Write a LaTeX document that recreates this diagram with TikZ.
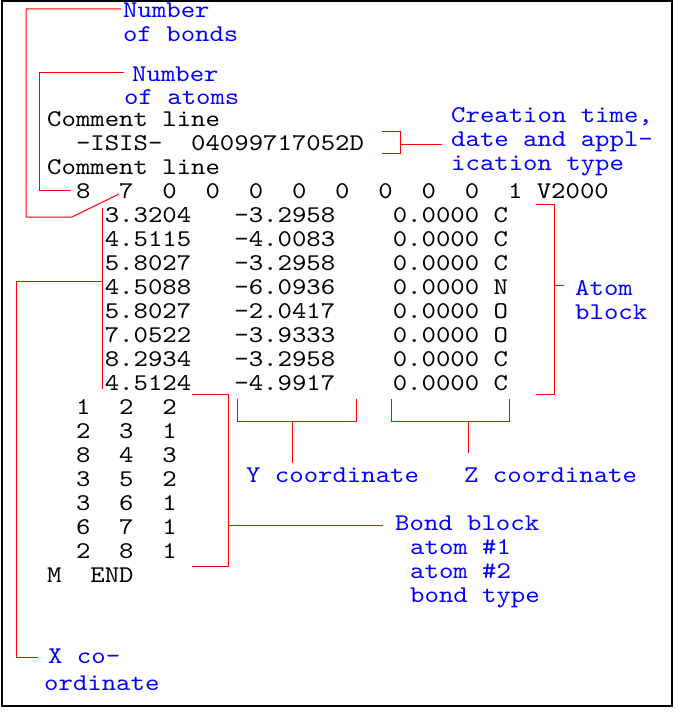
\documentclass[tikz,border=0pt]{standalone}
\usepackage{fontspec}
\newfontfamily\lstfont{lmmono10-regular.otf}[FakeStretch=1.143]
\usetikzlibrary{positioning}

\tikzset{
	lst/.style={font=\lstfont\fontsize{24}{24}\selectfont,inner sep=0pt,anchor=base west},
	lbl/.style={lst,text=blue,align=left},
	lnk/.style={red,line width=1pt},
}

\begin{document}
\begin{tikzpicture}[x=1pt,y=-1pt]
		\useasboundingbox (0,0) rectangle (674,714);
		\draw[line width=2pt] (2,1) rectangle (672,706);
		\node[lst] (cl1) at (47,127) {Comment line};
		\node[lst,below=23.95pt of cl1.base west,anchor=base west] (isis) {~~-ISIS-~~04099717052D};
		\node[lst,below=23.95pt of isis.base west,anchor=base west] (cl2) {Comment line};
		\node[lst,below=23.95pt of cl2.base west,anchor=base west] (cnt) {~~8~~7~~0~~0~~0~~0~~0~~0~~0~~0~~1~V2000};
		\node[lst,below=23.95pt of cnt.base west,anchor=base west] (a1) {~~~~3.3204~~~-3.2958~~~~0.0000~C};
		\node[lst,below=23.95pt of a1.base west,anchor=base west] (a2) {~~~~4.5115~~~-4.0083~~~~0.0000~C};
		\node[lst,below=23.95pt of a2.base west,anchor=base west] (a3) {~~~~5.8027~~~-3.2958~~~~0.0000~C};
		\node[lst,below=23.95pt of a3.base west,anchor=base west] (a4) {~~~~4.5088~~~-6.0936~~~~0.0000~N};
		\node[lst,below=23.95pt of a4.base west,anchor=base west] (a5) {~~~~5.8027~~~-2.0417~~~~0.0000~O};
		\node[lst,below=23.95pt of a5.base west,anchor=base west] (a6) {~~~~7.0522~~~-3.9333~~~~0.0000~O};
		\node[lst,below=23.95pt of a6.base west,anchor=base west] (a7) {~~~~8.2934~~~-3.2958~~~~0.0000~C};
		\node[lst,below=23.95pt of a7.base west,anchor=base west] (a8) {~~~~4.5124~~~-4.9917~~~~0.0000~C};
		\node[lst,below=23.95pt of a8.base west,anchor=base west] (b1) {~~1~~2~~2};
		\node[lst,below=23.95pt of b1.base west,anchor=base west] (b2) {~~2~~3~~1};
		\node[lst,below=23.95pt of b2.base west,anchor=base west] (b3) {~~8~~4~~3};
		\node[lst,below=23.95pt of b3.base west,anchor=base west] (b4) {~~3~~5~~2};
		\node[lst,below=23.95pt of b4.base west,anchor=base west] (b5) {~~3~~6~~1};
		\node[lst,below=23.95pt of b5.base west,anchor=base west] (b6) {~~6~~7~~1};
		\node[lst,below=23.95pt of b6.base west,anchor=base west] (b7) {~~2~~8~~1};
		\node[lst,below=23.95pt of b7.base west,anchor=base west] (mend) {M~~END};
		\node[lbl] (nbnd) at (123,42) {Number\\of bonds};
		\node[lbl] (natm) at (124,105) {\hspace*{8pt}Number\\[-1pt]of atoms};
		\node[lbl] (ctime) at (451,171) {Creation time,\\date and appl-\\ication type};
		\node[lbl] (ablk) at (575,319) {Atom\\block};
		\node[lbl] (yco) at (246,482) {Y coordinate};
		\node[lbl] (zco) at (464,482) {Z coordinate};
		\node[lbl] (bblk) at (395,602) {Bond block\\\hspace*{15pt}atom \#1\\\hspace*{15pt}atom \#2\\\hspace*{15pt}bond type};
		\node[lbl] (xco) at (44,690) {\hspace*{4pt}X co-\\[3pt]ordinate};
		\coordinate (nb) at (121,9);
		\coordinate (n7) at (119,194);
		\coordinate (na) at (124,73);
		\coordinate (n8) at (71,190);
		\coordinate (ct) at (442,145);
		\coordinate (ab) at (564,285);
		\coordinate (xc) at (38,657);
		\coordinate (yc) at (292,463);
		\coordinate (zc) at (468,453);
		\coordinate (bb) at (383,525);
		\draw[lnk] (nb) -| (26,217) -- (72,217) -- (n7);
		\draw[lnk] (na) -| (39,190) -- (n8);
		\draw[lnk] (382,132) -| (400,154) -- (382,154);
		\draw[lnk] (400,145) -- (ct);
		\draw[lnk] (536,204) -| (554,394) -- (536,394);
		\draw[lnk] (554,285) -- (ab);
		\draw[lnk] (102,208) -- (102,389);
		\draw[lnk] (102,281) -| (16,657) -- (xc);
		\draw[lnk] (237,399) |- (356,421) -- (356,399);
		\draw[lnk] (292,421) -- (yc);
		\draw[lnk] (391,399) |- (509,421) -- (509,399);
		\draw[lnk] (468,421) -- (zc);
		\draw[lnk] (192,394) -| (228,566) -- (192,566);
		\draw[lnk] (228,525) -- (bb);
	\end{tikzpicture}
\end{document}
